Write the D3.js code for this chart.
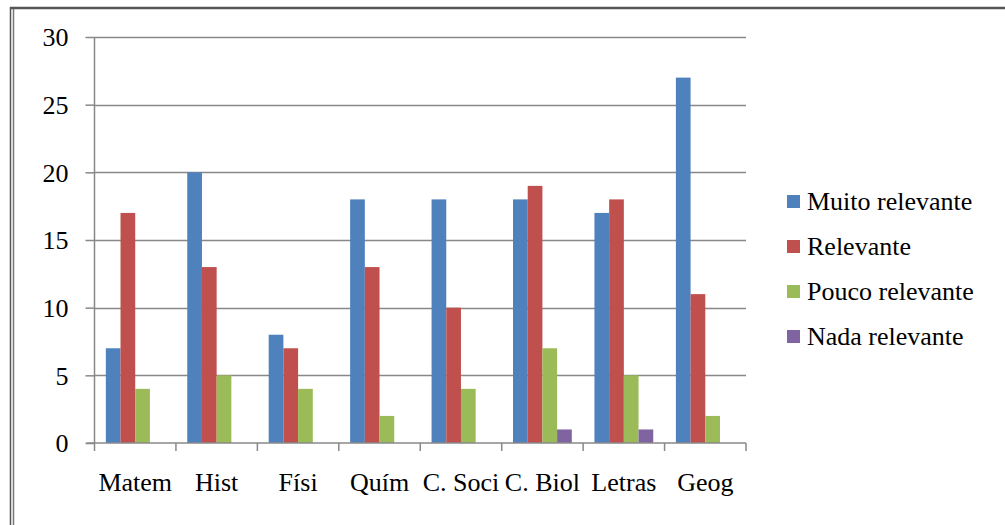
<!DOCTYPE html>
<html><head><meta charset="utf-8">
<script src="https://cdn.jsdelivr.net/npm/d3@7"></script>
<style>body{margin:0;background:#fff;}svg{display:block;}</style>
</head><body>
<svg id="c" width="1005" height="525"></svg>
<script>
const categories = ["Matem","Hist","Físi","Quím","C. Soci","C. Biol","Letras","Geog"];
const seriesNames = ["Muito relevante","Relevante","Pouco relevante","Nada relevante"];
const muito = [7,20,8,18,18,18,17,27];
const relev = [17,13,7,13,10,19,18,11];
const pouco = [4,5,4,2,4,7,5,2];
const nada = [0,0,0,0,0,1,1,0];
const yTicks = [0,5,10,15,20,25,30];
const colors = ["#4F81BD","#C0504D","#9BBB59","#8064A2"];
const seriesValues = [muito, relev, pouco, nada];
const FONT = "'Liberation Serif', 'Times New Roman', serif";

const svg = d3.select("#c");
// frame
svg.append("line").attr("x1",10.5).attr("x2",10.5).attr("y1",7).attr("y2",525).attr("stroke","#555").attr("stroke-width",1.5);
svg.append("line").attr("x1",13.5).attr("x2",13.5).attr("y1",9).attr("y2",525).attr("stroke","#777").attr("stroke-width",1.5);
svg.append("line").attr("x1",10).attr("x2",1005).attr("y1",8).attr("y2",8).attr("stroke","#555").attr("stroke-width",2.5);

const x0 = 94.5, x1 = 746, yBottom = 443, yTop = 37;
const x = d3.scaleBand().domain(categories).range([x0, x1]).paddingInner(0).paddingOuter(0);
const xs = d3.scaleBand().domain(d3.range(4)).range([0, x.bandwidth()]).paddingInner(0).paddingOuter(0.77);
const y = d3.scaleLinear().domain([0,30]).range([yBottom, yTop]);

// gridlines
svg.append("g").selectAll("line").data(yTicks.filter(d=>d>0)).join("line")
  .attr("x1", x0).attr("x2", x1).attr("y1", d=>Math.round(y(d))+0.5).attr("y2", d=>Math.round(y(d))+0.5)
  .attr("stroke","#888").attr("stroke-width",1.5);

// bars
const data = [];
categories.forEach((c,i)=>seriesValues.forEach((s,j)=>data.push({c, j, v:s[i]})));
svg.append("g").selectAll("rect").data(data.filter(d=>d.v>0)).join("rect")
  .attr("x", d=>x(d.c)+xs(d.j)).attr("width", xs.bandwidth())
  .attr("y", d=>y(d.v)).attr("height", d=>y(0)-y(d.v))
  .attr("fill", d=>colors[d.j]);

// y axis
const yAxis = svg.append("g").attr("transform",`translate(${x0},0)`)
  .call(d3.axisLeft(y).tickValues(yTicks).tickSize(9).tickPadding(17).tickFormat(d3.format("d")));
yAxis.select(".domain").attr("stroke","#888").attr("stroke-width",1.5).attr("d",`M0,${yTop}V${yBottom}`);
yAxis.selectAll(".tick line").attr("stroke","#888").attr("stroke-width",1.5);
yAxis.selectAll("text").style("font-family",FONT).style("font-size","26px").attr("fill","#000").attr("dy","0.34em");

// x axis
const xAxis = svg.append("g").attr("transform",`translate(0,${yBottom})`)
  .call(d3.axisBottom(x).tickSize(0).tickPadding(30));
xAxis.select(".domain").attr("stroke","#888").attr("stroke-width",1.5).attr("d",`M${x0-8},0H${x1}`);
xAxis.selectAll("text").style("font-family",FONT).style("font-size","26px").attr("fill","#000");
// category boundary ticks
const bounds = categories.map(c=>x(c)).concat([x1]);
svg.append("g").selectAll("line").data(bounds).join("line")
  .attr("x1",d=>d).attr("x2",d=>d).attr("y1",yBottom).attr("y2",yBottom+8)
  .attr("stroke","#888").attr("stroke-width",1.5);

// legend
const lg = svg.append("g").attr("transform","translate(787,195)");
seriesNames.forEach((n,i)=>{
  const g = lg.append("g").attr("transform",`translate(0,${i*45})`);
  g.append("rect").attr("width",13).attr("height",13).attr("y",0).attr("fill",colors[i]);
  g.append("text").attr("x",20).attr("y",15).style("font-family",FONT).style("font-size","26px").attr("fill","#000").text(n);
});
</script>
</body></html>
